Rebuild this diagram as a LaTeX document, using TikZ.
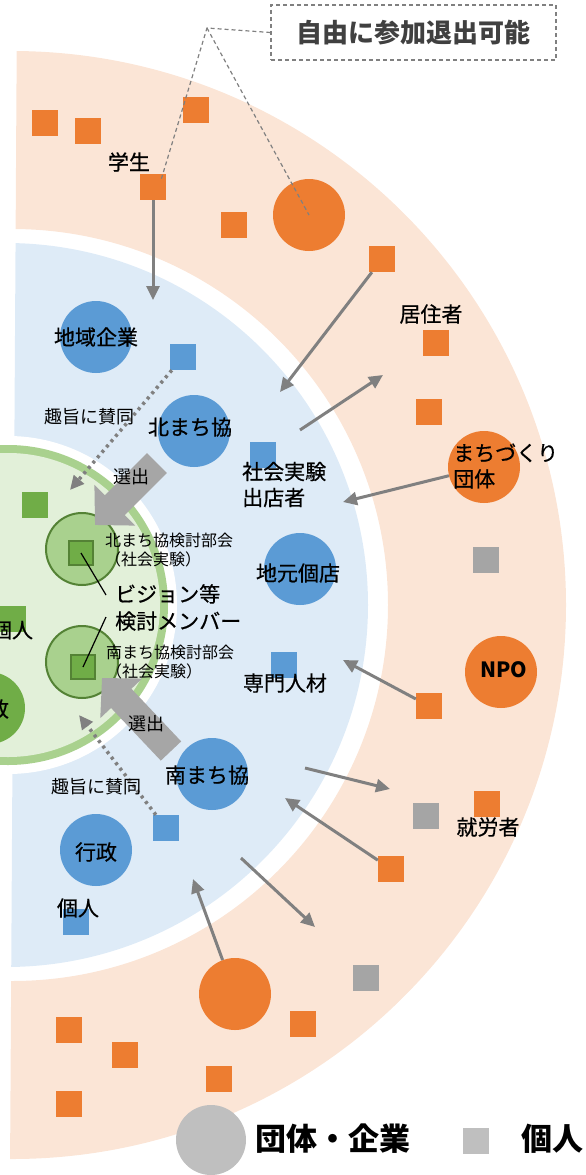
\documentclass[tikz,border=0pt]{standalone}
\usepackage{fontspec}
\setmainfont{Noto Sans CJK JP}
\newfontfamily\medf[FakeBold=0.6]{Noto Sans CJK JP}
\usetikzlibrary{arrows.meta}
\definecolor{orband}{HTML}{FBE5D6}
\definecolor{blband}{HTML}{DEEBF7}
\definecolor{grpale}{HTML}{E2F0D9}
\definecolor{grring}{HTML}{A9D18E}
\definecolor{grdark}{HTML}{70AD47}
\definecolor{grline}{HTML}{548235}
\definecolor{orfill}{HTML}{ED7D31}
\definecolor{blfill}{HTML}{5B9BD5}
\definecolor{gyfill}{HTML}{A5A5A5}
\definecolor{lgfill}{HTML}{BFBFBF}
\definecolor{arrgray}{HTML}{808080}
\definecolor{bigarr}{HTML}{A6A6A6}
\definecolor{txtgray}{HTML}{404040}
\tikzset{
 sq/.style={rectangle, minimum size=26pt, inner sep=0pt, draw=none},
 osq/.style={sq, fill=orfill},
 bsq/.style={sq, fill=blfill},
 gsq/.style={sq, fill=gyfill},
 dsq/.style={sq, fill=grdark},
 isq/.style={sq, fill=grdark, draw=grline, line width=2pt, minimum size=24pt},
 bigc/.style={circle, minimum size=72pt, inner sep=0pt, draw=none},
 oc/.style={bigc, fill=orfill},
 bc/.style={bigc, fill=blfill},
 kc/.style={circle, minimum size=72pt, inner sep=0pt, fill=grring, draw=grline, line width=2pt},
 lbl/.style={inner sep=0pt, font=\medf\fontsize{21}{26}\selectfont, text=black},
 slbl/.style={inner sep=0pt, font=\fontsize{18}{22}\selectfont, text=black},
 tlbl/.style={inner sep=0pt, font=\fontsize{16}{19}\selectfont, align=left, anchor=west, text=black},
 arr/.style={draw=arrgray, line width=3pt, -{Triangle[length=14pt,width=13pt]}},
 dotarr/.style={draw=arrgray, line width=3.5pt, dash pattern=on 3pt off 4pt, -{Triangle[length=14pt,width=13pt]}},
 bigarrow/.style={draw=bigarr, line width=28pt, -{Triangle[length=28pt,width=56pt]}},
 dashl/.style={draw=arrgray, line width=1.2pt, dash pattern=on 4pt off 3pt},
}
\begin{document}
\begin{tikzpicture}[x=1pt,y=-1pt]
\useasboundingbox (0,0) rectangle (586,1175);
% background bands
\begin{scope}
 \clip (17,0) -- (600,0) -- (600,1175) -- (10,1175) -- cycle;
 \fill[orband, even odd rule] (12,605) circle[radius=554] (12,605) circle[radius=376];
 \fill[blband] (6,605) circle[radius=362];
\end{scope}
\fill[white] (8,605) circle[radius=169];
\fill[grring] (8,605) circle[radius=160];
\fill[grpale] (8,605) circle[radius=152];

% circles
\node[oc] (cTop) at (309,215) {};
\node[bc] (cChiiki) at (96,337) {};
\node[bc] (cKita) at (194,431) {};
\node[bc] (cJimoto) at (300,569) {};
\node[oc] (cMachi) at (484,467) {};
\node[oc] (cNPO) at (501,672) {};
\node[bc] (cMinami) at (212,774) {};
\node[bc] (cGyosei) at (96,850) {};
\node[oc] (cBottom) at (235,994) {};
\node[bigc, fill=grdark] (cGreenGyo) at (-11,708) {};
\node[kc] (kKita) at (82,549) {};
\node[kc] (kMinami) at (82,662) {};

% squares
\node[osq] (o1) at (45,123) {};
\node[osq] (o2) at (88,131) {};
\node[osq] (o3) at (196,110) {};
\node[osq] (oGaku) at (153,187) {};
\node[osq] (o5) at (234,225) {};
\node[osq] (o6) at (382,259) {};
\node[osq] (oKyo) at (436,343) {};
\node[osq] (o8) at (429,412) {};
\node[osq] (o9) at (429,706) {};
\node[osq] (o10) at (487,804) {};
\node[osq] (o11) at (391,869) {};
\node[osq] (o12) at (303,1024) {};
\node[osq] (o13) at (69,1030) {};
\node[osq] (o14) at (125,1055) {};
\node[osq] (o15) at (219,1079) {};
\node[osq] (o16) at (69,1104) {};
\node[gsq] (g1) at (486,560) {};
\node[gsq] (g2) at (426,816) {};
\node[gsq] (g3) at (366,978) {};
\node[bsq] (b1) at (183,357) {};
\node[bsq] (b2) at (263,455) {};
\node[bsq] (b3) at (284,665) {};
\node[bsq] (b4) at (166,828) {};
\node[bsq] (b5) at (76,922) {};
\node[dsq] (d1) at (35,505) {};
\node[dsq] (d2) at (13,619) {};
\node[isq] (iKita) at (81,553) {};
\node[isq] (iMinami) at (83,667) {};

% legend shapes
\node[bigc, minimum size=70pt, fill=lgfill] (lgC) at (211,1140) {};
\node[sq, fill=lgfill] (lgS) at (476,1141) {};

% arrow end coordinates
\coordinate (t1) at (153,300);
\coordinate (t2) at (280,392);
\coordinate (s3) at (300,430);
\coordinate (t3) at (383,375);
\coordinate (t4) at (343,502);
\coordinate (t5) at (343,660);
\coordinate (s6) at (305,768);
\coordinate (t6) at (390,789);
\coordinate (t7) at (285,798);
\coordinate (s8) at (241,858);
\coordinate (t8) at (315,927);
\coordinate (t9) at (193,879);
\coordinate (dt1) at (70,490);
\coordinate (dt2) at (79,715);
\coordinate (bs1) at (157,463);
\coordinate (bt1) at (95,525);
\coordinate (bs2) at (171,751);
\coordinate (bt2) at (102,678);

% arrows
\draw[arr] (oGaku) -- (t1);
\draw[arr] (o6) -- (t2);
\draw[arr] (s3) -- (t3);
\draw[arr] (cMachi) -- (t4);
\draw[arr] (o9) -- (t5);
\draw[arr] (s6) -- (t6);
\draw[arr] (o11) -- (t7);
\draw[arr] (s8) -- (t8);
\draw[arr] (cBottom) -- (t9);
\draw[dotarr] (b1) -- (dt1);
\draw[dotarr] (b4) -- (dt2);
\draw[bigarrow] (bs1) -- (bt1);
\draw[bigarrow] (bs2) -- (bt2);

% connector lines to 検討メンバー
\coordinate (vm1) at (106,595);
\coordinate (vm2) at (106,617);
\draw[black, line width=1.2pt] (iKita.center) -- (vm1);
\draw[black, line width=1.2pt] (iMinami.center) -- (vm2);

% dashed callout
\node[draw=arrgray, line width=1.2pt, dash pattern=on 4pt off 3pt, minimum width=285pt, minimum height=55pt, inner sep=0pt, text=txtgray, font=\fontsize{26}{30}\selectfont\bfseries] (box) at (413.5,32.5) {自由に参加退出可能};
\coordinate (apex) at (207,28);
\coordinate (dA) at (161,180);
\draw[dashl] (box.west) -- (apex) -- (dA);
\draw[dashl] (apex) -- (cTop.center);

% labels
\node[lbl] (lGaku) at (129,162) {学生};
\node[lbl] (lChiiki) at (96,337) {地域企業};
\node[lbl] (lKita) at (190,427) {北まち協};
\node[lbl] (lJimoto) at (298,573) {地元個店};
\node[lbl, align=left, anchor=west] (lShakai) at (242,484.5) {社会実験\\出店者};
\node[lbl, align=left, anchor=west] (lMachi) at (453,466) {まちづくり\\団体};
\node[lbl, font=\fontsize{21}{26}\selectfont\bfseries] (lNPO) at (504,670) {NPO};
\node[lbl] (lKyo) at (431,314) {居住者};
\node[lbl] (lSenmon) at (285,683) {専門人材};
\node[lbl] (lShuro) at (488,827) {就労者};
\node[lbl] (lMinami) at (207,775) {南まち協};
\node[lbl] (lGyosei) at (96,852) {行政};
\node[lbl] (lKojin) at (78,908) {個人};
\node[lbl] (lKojinG) at (12,630) {個人};
\node[lbl] (lGyoseiG) at (-12,709) {行政};
\node[slbl] (lShushi1) at (89,417) {趣旨に賛同};
\node[slbl] (lShushi2) at (96,787) {趣旨に賛同};
\node[slbl] (lSen1) at (131,477) {選出};
\node[slbl] (lSen2) at (146,724) {選出};
\node[tlbl] (lKKita) at (105,550.5) {北まち協検討部会\\（社会実験）};
\node[tlbl] (lKMinami) at (106,662.5) {南まち協検討部会\\（社会実験）};
\node[lbl, align=left, anchor=west, font=\medf\fontsize{21}{27}\selectfont] (lVision) at (115,607.5) {ビジョン等\\検討メンバー};
\node[lbl, font=\fontsize{31}{36}\selectfont\bfseries] (lgT1) at (333,1139) {団体・企業};
\node[lbl, font=\fontsize{31}{36}\selectfont\bfseries] (lgT2) at (552,1139) {個人};
\end{tikzpicture}
\end{document}
